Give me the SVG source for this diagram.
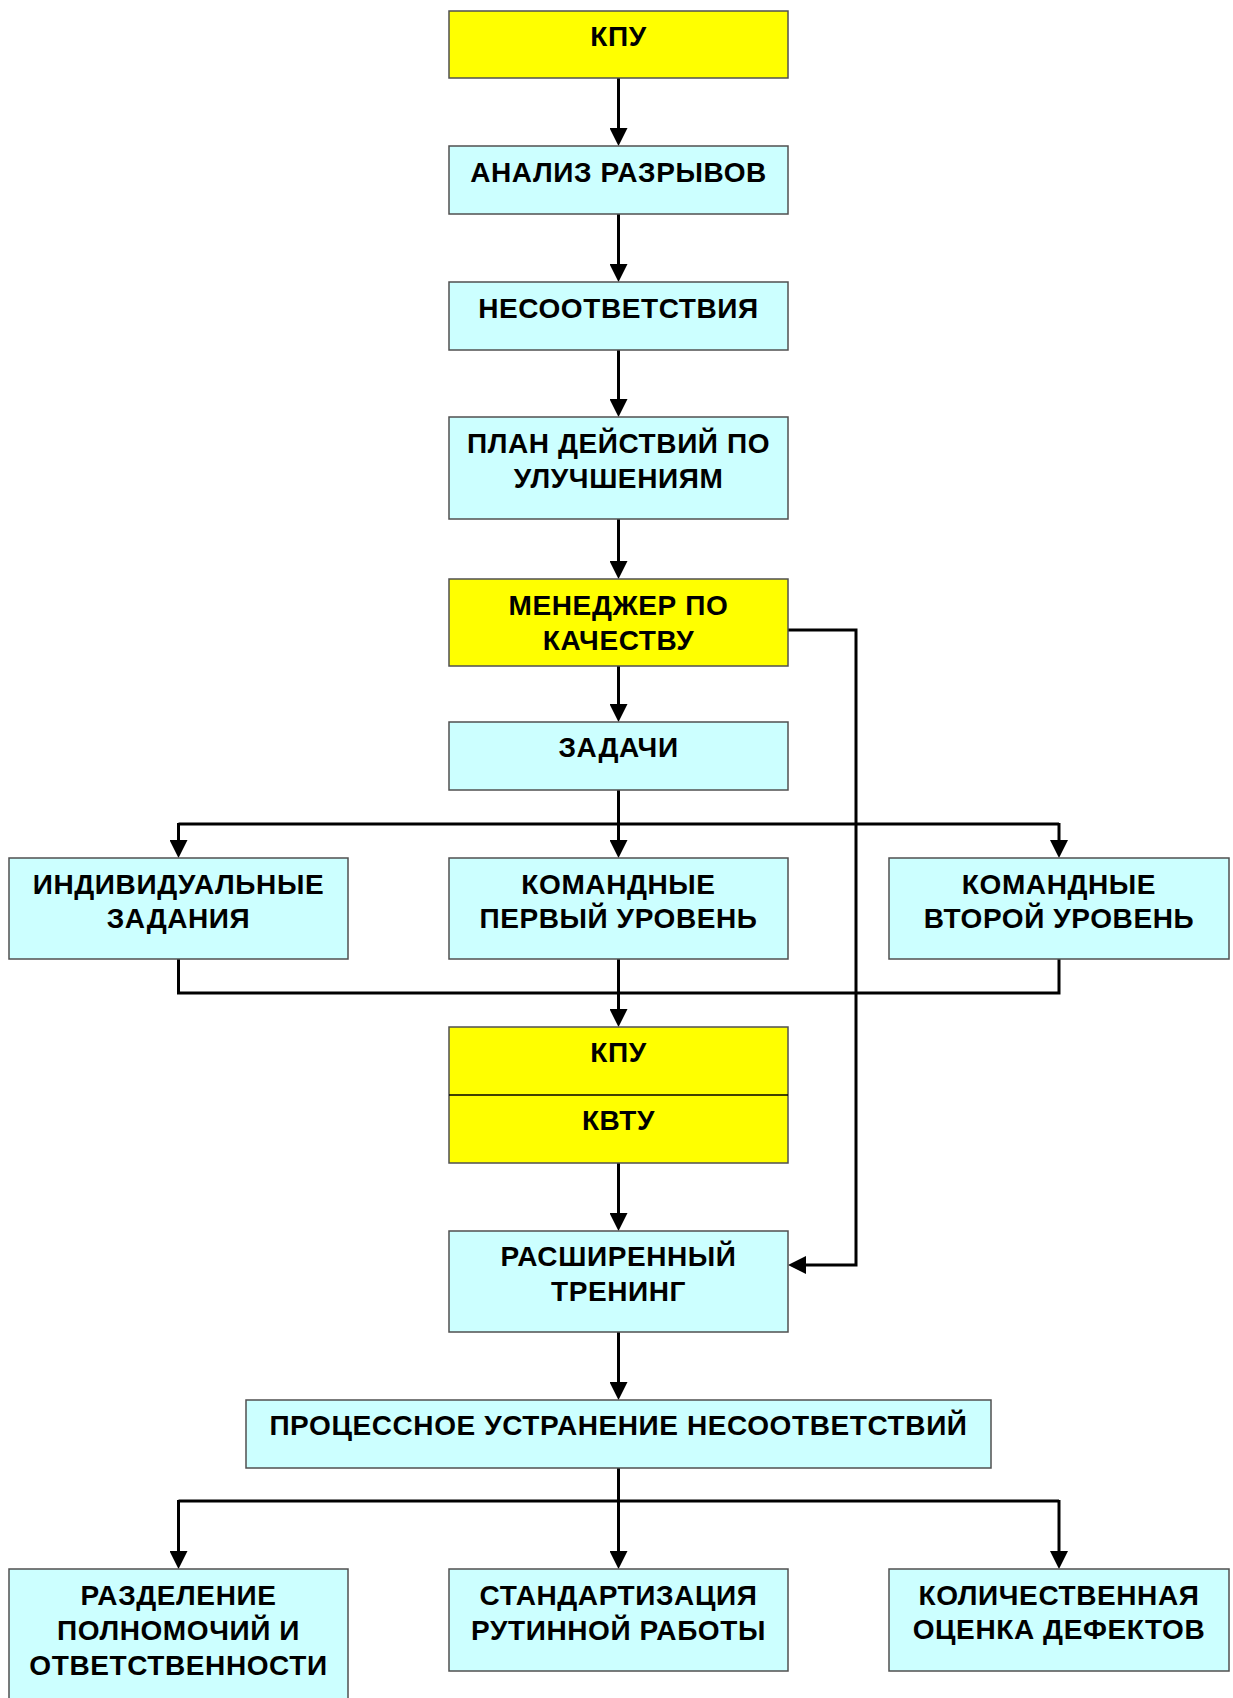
<svg xmlns="http://www.w3.org/2000/svg" width="1233" height="1698" viewBox="0 0 1233 1698">
  <style>
    .box { stroke: #505050; stroke-width: 1.5; }
    .y { fill: #FFFF00; }
    .c { fill: #CCFFFF; }
    .t { font-family: "Liberation Sans", Arial, sans-serif; font-weight: bold; font-size: 28px; letter-spacing: 0.6px; fill: #000; text-anchor: middle; }
    .ln { fill: none; stroke: #000; stroke-width: 3; }
    .ar { marker-end: url(#arrow); }
  </style>
  <defs>
    <marker id="arrow" markerUnits="userSpaceOnUse" markerWidth="18" markerHeight="18" viewBox="0 0 18 18" refX="10" refY="9" orient="auto">
      <path d="M0,0 L18,9 L0,18 z" fill="#000"/>
    </marker>
  </defs>

  <rect width="1233" height="1698" fill="#fff"/>

  <!-- connectors -->
  <g id="connectors">
    <path class="ln ar" d="M618.5,78 V138"/>
    <path class="ln ar" d="M618.5,214 V274"/>
    <path class="ln ar" d="M618.5,350 V409"/>
    <path class="ln ar" d="M618.5,519 V571"/>
    <path class="ln ar" d="M618.5,666 V714"/>
    <!-- fan-out to task groups -->
    <path class="ln" d="M618.5,790 V824"/>
    <path class="ln" d="M178.5,824 H1059"/>
    <path class="ln ar" d="M178.5,823 V850"/>
    <path class="ln ar" d="M618.5,824 V850"/>
    <path class="ln ar" d="M1059,823 V850"/>
    <!-- merge back -->
    <path class="ln" d="M178.5,959 V993 H1059 V959"/>
    <path class="ln ar" d="M618.5,959 V1019"/>
    <path class="ln ar" d="M618.5,1163 V1223"/>
    <!-- feedback from quality manager -->
    <path class="ln ar" d="M788,630 H856 V1265 H796"/>
    <path class="ln ar" d="M618.5,1332 V1392"/>
    <!-- fan-out to bottom row -->
    <path class="ln" d="M618.5,1468 V1501"/>
    <path class="ln" d="M178.5,1501 H1059"/>
    <path class="ln ar" d="M178.5,1500 V1561"/>
    <path class="ln ar" d="M618.5,1501 V1561"/>
    <path class="ln ar" d="M1059,1500 V1561"/>
  </g>

  <g id="kpu-top">
    <rect class="box y" x="449" y="11" width="339" height="67"/>
    <text class="t" x="618.5" y="46">КПУ</text>
  </g>
  <g id="gap-analysis">
    <rect class="box c" x="449" y="146" width="339" height="68"/>
    <text class="t" x="618.5" y="182">АНАЛИЗ РАЗРЫВОВ</text>
  </g>
  <g id="nonconformities">
    <rect class="box c" x="449" y="282" width="339" height="68"/>
    <text class="t" x="618.5" y="318">НЕСООТВЕТСТВИЯ</text>
  </g>
  <g id="action-plan">
    <rect class="box c" x="449" y="417" width="339" height="102"/>
    <text class="t" x="618.5" y="453">ПЛАН ДЕЙСТВИЙ ПО</text>
    <text class="t" x="618.5" y="488">УЛУЧШЕНИЯМ</text>
  </g>
  <g id="quality-manager">
    <rect class="box y" x="449" y="579" width="339" height="87"/>
    <text class="t" x="618.5" y="615">МЕНЕДЖЕР ПО</text>
    <text class="t" x="618.5" y="650">КАЧЕСТВУ</text>
  </g>
  <g id="tasks">
    <rect class="box c" x="449" y="722" width="339" height="68"/>
    <text class="t" x="618.5" y="757">ЗАДАЧИ</text>
  </g>
  <g id="individual">
    <rect class="box c" x="9" y="858" width="339" height="101"/>
    <text class="t" x="178.5" y="894">ИНДИВИДУАЛЬНЫЕ</text>
    <text class="t" x="178.5" y="928">ЗАДАНИЯ</text>
  </g>
  <g id="team-level-1">
    <rect class="box c" x="449" y="858" width="339" height="101"/>
    <text class="t" x="618.5" y="894">КОМАНДНЫЕ</text>
    <text class="t" x="618.5" y="928">ПЕРВЫЙ УРОВЕНЬ</text>
  </g>
  <g id="team-level-2">
    <rect class="box c" x="889" y="858" width="340" height="101"/>
    <text class="t" x="1059" y="894">КОМАНДНЫЕ</text>
    <text class="t" x="1059" y="928">ВТОРОЙ УРОВЕНЬ</text>
  </g>
  <g id="kpu-kvtu">
    <rect class="box y" x="449" y="1027" width="339" height="136"/>
    <line x1="449" y1="1095" x2="788" y2="1095" stroke="#000" stroke-width="1.5"/>
    <text class="t" x="618.5" y="1062">КПУ</text>
    <text class="t" x="618.5" y="1130">КВТУ</text>
  </g>
  <g id="extended-training">
    <rect class="box c" x="449" y="1231" width="339" height="101"/>
    <text class="t" x="618.5" y="1266">РАСШИРЕННЫЙ</text>
    <text class="t" x="618.5" y="1301">ТРЕНИНГ</text>
  </g>
  <g id="process-elimination">
    <rect class="box c" x="246" y="1400" width="745" height="68"/>
    <text class="t" x="618.5" y="1435">ПРОЦЕССНОЕ УСТРАНЕНИЕ НЕСООТВЕТСТВИЙ</text>
  </g>
  <g id="responsibility">
    <rect class="box c" x="9" y="1569" width="339" height="140"/>
    <text class="t" x="178.5" y="1605">РАЗДЕЛЕНИЕ</text>
    <text class="t" x="178.5" y="1640">ПОЛНОМОЧИЙ И</text>
    <text class="t" x="178.5" y="1675">ОТВЕТСТВЕННОСТИ</text>
  </g>
  <g id="standardization">
    <rect class="box c" x="449" y="1569" width="339" height="102"/>
    <text class="t" x="618.5" y="1605">СТАНДАРТИЗАЦИЯ</text>
    <text class="t" x="618.5" y="1640">РУТИННОЙ РАБОТЫ</text>
  </g>
  <g id="defects">
    <rect class="box c" x="889" y="1569" width="340" height="102"/>
    <text class="t" x="1059" y="1605">КОЛИЧЕСТВЕННАЯ</text>
    <text class="t" x="1059" y="1639">ОЦЕНКА ДЕФЕКТОВ</text>
  </g>
</svg>
